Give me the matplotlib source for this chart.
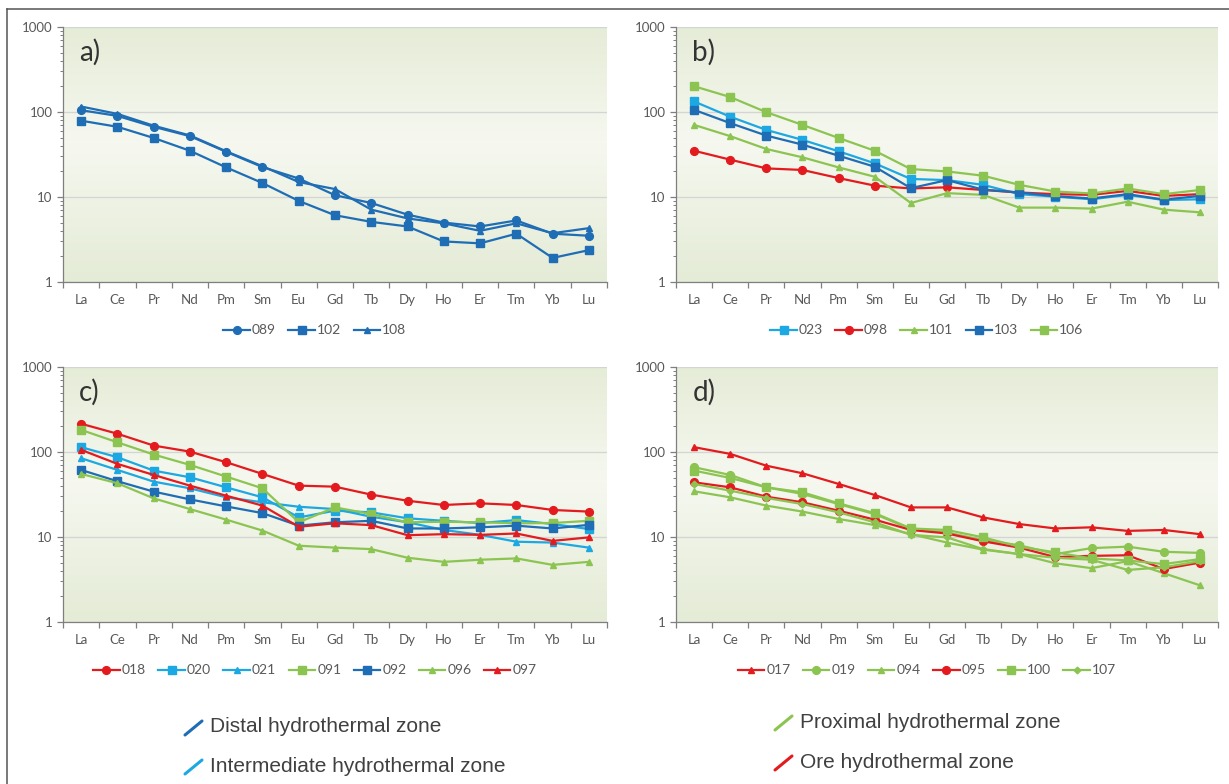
import numpy as np
import matplotlib
matplotlib.use("Agg")
import matplotlib.pyplot as plt
from matplotlib.lines import Line2D
from matplotlib.ticker import LogLocator, NullFormatter, FixedLocator, FixedFormatter

# Chondrite-normalised REE, one list per sample
elements = ["La", "Ce", "Pr", "Nd", "Pm", "Sm", "Eu", "Gd", "Tb", "Dy", "Ho", "Er", "Tm", "Yb", "Lu"]

# a) distal zone
s089 = [105, 90, 67, 52, 34, 22.5, 16.5, 10.5, 8.5, 6.2, 5.0, 4.5, 5.3, 3.7, 3.5]
s102 = [79, 67, 49.5, 35, 22.3, 14.6, 9.0, 6.1, 5.1, 4.5, 3.0, 2.85, 3.7, 1.92, 2.37]
s108 = [116, 95, 69, 53, 34.5, 23, 15, 12.4, 7.1, 5.6, 4.9, 4.0, 4.9, 3.75, 4.3]

# b)
s023 = [133, 88, 61.5, 47, 34.5, 24.9, 16.3, 15.8, 13.9, 10.8, 10.1, 9.4, 10.6, 9.2, 9.4]
s098 = [35, 27.5, 21.7, 20.8, 16.7, 13.6, 12.6, 13.0, 12.1, 11.3, 10.8, 10.6, 11.8, 10.3, 10.8]
s101 = [70.5, 52, 36.7, 29.3, 22.3, 17.3, 8.5, 11.1, 10.6, 7.5, 7.5, 7.3, 8.8, 7.1, 6.6]
s103 = [106, 74, 52.8, 41.3, 30.6, 22.7, 12.7, 15.8, 12.2, 11.3, 10.2, 9.6, 10.8, 9.3, 10.3]
s106 = [201, 150, 99.5, 70.5, 49.5, 35, 21.3, 20, 17.8, 13.9, 11.6, 11.0, 12.6, 10.8, 12.1]

# c)
s018 = [215, 164, 119, 101, 75.8, 55.2, 40.2, 39.1, 31.5, 26.7, 23.8, 24.9, 23.8, 20.8, 19.9]
s020 = [114, 86.8, 60.4, 50.4, 38.4, 29.3, 17.0, 20.4, 19.5, 16.6, 15.5, 14.6, 15.8, 14.2, 12.4]
s021 = [84.5, 61.5, 44.8, 37.4, 29.3, 25.6, 22.7, 21.3, 17.3, 14.9, 12.1, 10.6, 8.8, 8.6, 7.5]
s091 = [182, 130, 93.4, 70.5, 51.4, 37.4, 14.9, 22.3, 18.6, 14.9, 15.1, 14.9, 14.5, 14.6, 15.5]
s092 = [61.5, 45.3, 34.2, 27.7, 22.9, 19.1, 13.6, 14.9, 15.5, 12.6, 12.6, 13.0, 13.6, 12.6, 13.9]
s096 = [55.2, 42.9, 28.5, 21.3, 16.0, 11.9, 7.9, 7.5, 7.2, 5.7, 5.1, 5.4, 5.6, 4.7, 5.1]
s097 = [106, 72.5, 53.7, 40.2, 30.6, 23.4, 13.2, 14.5, 13.8, 10.5, 10.8, 10.6, 11.0, 9.0, 9.9]

# d)
s017 = [114, 95, 69, 56.2, 42.1, 31.2, 22.3, 22.3, 17.0, 14.2, 12.6, 13.0, 11.8, 12.1, 10.8]
s019 = [66.2, 53.7, 38.4, 32.1, 24.4, 18.6, 12.4, 11.3, 9.2, 8.0, 6.3, 7.4, 7.7, 6.7, 6.5]
s094 = [34.5, 29.3, 23.4, 19.9, 16.3, 13.8, 10.8, 8.6, 7.1, 6.3, 4.9, 4.3, 5.2, 3.75, 2.7]
s095 = [44, 38.4, 29.8, 25.6, 20.4, 16.0, 12.1, 11.0, 8.9, 7.5, 5.8, 6.0, 6.1, 4.2, 5.0]
s100 = [60.4, 49.5, 38.4, 33.6, 24.9, 19.1, 12.6, 12.1, 9.9, 7.7, 6.6, 5.6, 5.3, 4.8, 5.5]
s107 = [42.1, 35.1, 28.8, 24.4, 19.5, 14.9, 10.6, 9.9, 7.2, 6.3, 5.7, 5.4, 4.1, 4.4, 5.2]

DISTAL = "#1f6db4"
INTER = "#1ca8e2"
PROX = "#8cc452"
ORE = "#e31b1f"

panels = [
    ("a)", [("089", s089, DISTAL, "o"), ("102", s102, DISTAL, "s"), ("108", s108, DISTAL, "^")]),
    ("b)", [("023", s023, INTER, "s"), ("098", s098, ORE, "o"), ("101", s101, PROX, "^"),
            ("103", s103, DISTAL, "s"), ("106", s106, PROX, "s")]),
    ("c)", [("018", s018, ORE, "o"), ("020", s020, INTER, "s"), ("021", s021, INTER, "^"),
            ("091", s091, PROX, "s"), ("092", s092, DISTAL, "s"), ("096", s096, PROX, "^"),
            ("097", s097, ORE, "^")]),
    ("d)", [("017", s017, ORE, "^"), ("019", s019, PROX, "o"), ("094", s094, PROX, "^"),
            ("095", s095, ORE, "o"), ("100", s100, PROX, "s"), ("107", s107, PROX, "D")]),
]

marker_sizes = {"o": 5.6, "s": 5.6, "^": 4.8, "D": 3.4}

W, H = 1229, 784
fig = plt.figure(figsize=(W / 100, H / 100), dpi=100)
fig.patch.set_facecolor("white")

TXT = "#595959"
FONT = "Lato"

# axes boxes in pixels: left, top, right, bottom
boxes = [(63, 27, 607, 282), (676, 27, 1218, 282), (63, 367, 607, 622), (676, 367, 1218, 622)]

# vertical background gradient (top greenish, lighter in the middle)
stops = np.array([[0.0, 0.898, 0.925, 0.843],
                  [0.45, 0.965, 0.973, 0.941],
                  [1.0, 0.894, 0.922, 0.839]])
tt = np.linspace(0, 1, 256)
grad = np.stack([np.interp(tt, stops[:, 0], stops[:, i]) for i in (1, 2, 3)], axis=-1)
grad = grad[:, None, :]

x = np.arange(len(elements))

for (label, series), (l, t, r, b) in zip(panels, boxes):
    ax = fig.add_axes([l / W, 1 - b / H, (r - l) / W, (b - t) / H])
    ax.imshow(grad, extent=[0, 1, 0, 1], transform=ax.transAxes, aspect="auto",
              zorder=0, interpolation="bilinear")
    ax.set_yscale("log")
    ax.set_ylim(1, 1000)
    ax.set_xlim(-0.5, len(elements) - 0.5)
    ax.set_axisbelow(True)
    ax.yaxis.grid(True, which="major", color="#d4d4d4", lw=0.9)
    for name, vals, col, mk in series:
        ax.plot(x, vals, color=col, lw=1.6, marker=mk, markersize=marker_sizes[mk],
                markerfacecolor=col, markeredgecolor=col, label=name, zorder=3)
    for sp in ("top", "right"):
        ax.spines[sp].set_visible(False)
    for sp in ("left", "bottom"):
        ax.spines[sp].set_color("#7f7f7f")
        ax.spines[sp].set_linewidth(0.9)
    # category ticks between bins, labels centred on bins
    ax.xaxis.set_major_locator(FixedLocator(np.arange(-0.5, len(elements), 1.0)))
    ax.xaxis.set_major_formatter(NullFormatter())
    ax.xaxis.set_minor_locator(FixedLocator(x))
    ax.xaxis.set_minor_formatter(FixedFormatter(elements))
    ax.tick_params(axis="x", which="major", length=4.5, width=0.9, color="#7f7f7f", direction="out")
    ax.tick_params(axis="x", which="minor", length=0, pad=9, labelsize=9.5, labelcolor=TXT)
    ax.yaxis.set_major_locator(LogLocator(base=10))
    ax.yaxis.set_minor_locator(LogLocator(base=10, subs=np.arange(2, 10)))
    ax.yaxis.set_minor_formatter(NullFormatter())
    ax.set_yticks([1, 10, 100, 1000])
    ax.set_yticklabels(["1", "10", "100", "1000"])
    ax.tick_params(axis="y", which="major", length=4.5, width=0.9, color="#7f7f7f",
                   labelsize=9.5, labelcolor=TXT, pad=3)
    ax.tick_params(axis="y", which="minor", length=2.5, width=0.7, color="#7f7f7f")
    for lab in ax.get_xticklabels(minor=True) + ax.get_yticklabels():
        lab.set_fontfamily(FONT)
    ax.text(0.03, 0.9, label, transform=ax.transAxes, fontsize=20, color="#333333",
            fontfamily=FONT, fontweight="normal", va="center", ha="left")
    leg = ax.legend(loc="center", bbox_to_anchor=(0.463, -0.19), ncol=len(series), frameon=False,
                    prop={"family": FONT, "size": 10}, handlelength=1.9, handletextpad=0.15,
                    columnspacing=0.9, borderaxespad=0)
    for txt in leg.get_texts():
        txt.set_color(TXT)

# outer frame (left and top edges)
fig.add_artist(Line2D([7 / W, 7 / W], [0, 1 - 9 / H], color="#555555", lw=1.1))
fig.add_artist(Line2D([7 / W, 1], [1 - 9 / H, 1 - 9 / H], color="#555555", lw=1.1))

# zone key at the bottom
zones = [("Distal hydrothermal zone", DISTAL, 210, 727),
         ("Intermediate hydrothermal zone", INTER, 210, 766),
         ("Proximal hydrothermal zone", PROX, 800, 722),
         ("Ore hydrothermal zone", ORE, 800, 762)]
for text, col, tx, ty in zones:
    fig.add_artist(Line2D([(tx - 25) / W, (tx - 8) / W], [1 - (ty + 8) / H, 1 - (ty - 6) / H],
                          color=col, lw=2.2, solid_capstyle="round"))
    fig.text(tx / W, 1 - ty / H, text, fontsize=15, color="#404040",
             fontfamily="Liberation Sans", va="center", ha="left")

fig.savefig("out.png", dpi=100)
